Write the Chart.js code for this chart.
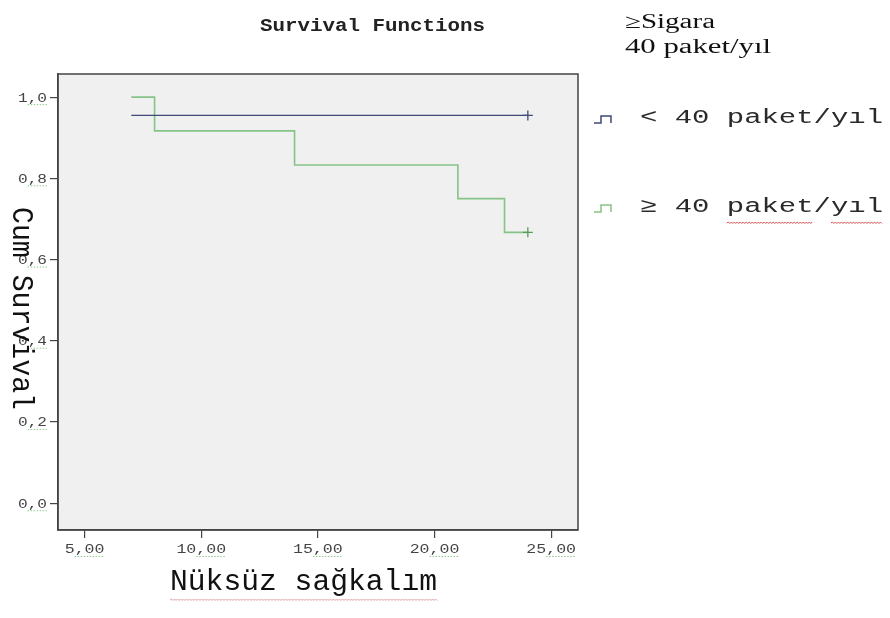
<!DOCTYPE html>
<html><head><meta charset="utf-8">
<script src="https://cdn.jsdelivr.net/npm/chart.js@4/dist/chart.umd.min.js"></script>
<style>html,body{margin:0;padding:0;background:#fff}#wrap{width:890px;height:618px}</style>
</head><body><div id="wrap"><canvas id="c" width="890" height="618"></canvas></div>
<script>
const titleText = 'Survival Functions';
const xAxisTitle = 'Nüksüz sağkalım';
const yAxisTitle = 'Cum Survival';
const legendTitle = ['≥Sigara', '40 paket/yıl'];
const seriesNames = ['< 40 paket/yıl', '≥ 40 paket/yıl'];
const xTicks = [5, 10, 15, 20, 25];
const yTicks = [0, 0.2, 0.4, 0.6, 0.8, 1.0];
const timesLow = [7, 24];
const survLow = [0.955, 0.955];
const timesHigh = [7, 8, 14, 21, 23, 24];
const survHigh = [1.0, 0.917, 0.833, 0.75, 0.667, 0.667];
const censoredLow = [24];
const censoredHigh = [24];

const colLow = '#3f4a78';
const colHigh = '#86c386';

function pts(xs, ys){ return xs.map((x,i)=>({x:x, y:ys[i]})); }
function censorRadius(list){
  return ctx => { const d = ctx.dataset.data; const i = ctx.dataIndex;
    return (i === d.length-1 && list.includes(d[i].x)) ? 5 : 0; };
}

function drawFit(ctx, text, x, y, w, font, color, align){
  ctx.save(); ctx.font = font; const m = ctx.measureText(text).width;
  ctx.translate(x, y); ctx.scale(w/m, 1); ctx.textAlign = align || 'left';
  ctx.textBaseline = 'alphabetic'; ctx.fillStyle = color; ctx.fillText(text, 0, 0); ctx.restore();
}
function drawScaled(ctx, text, x, y, sx, font, color, align){
  ctx.save(); ctx.font = font; ctx.translate(x, y); ctx.scale(sx, 1);
  ctx.textAlign = align || 'left'; ctx.textBaseline='alphabetic'; ctx.fillStyle = color;
  ctx.fillText(text, 0, 0); ctx.restore();
}
function dotted(ctx, x1, x2, y, color){
  ctx.save(); ctx.strokeStyle = color; ctx.lineWidth = 1; ctx.setLineDash([1.5,1.5]);
  ctx.beginPath(); ctx.moveTo(x1, y+0.5); ctx.lineTo(x2, y+0.5); ctx.stroke(); ctx.restore();
}
function wavy(ctx, x1, x2, y, color){
  ctx.save(); ctx.strokeStyle = color; ctx.lineWidth = 1; ctx.beginPath();
  let up = true; ctx.moveTo(x1, y);
  for (let x = x1 + 1.5; x <= x2; x += 1.5) { ctx.lineTo(x, up ? y - 1 : y + 0.5); up = !up; }
  ctx.stroke(); ctx.restore();
}

const deco = {
  id: 'deco',
  beforeDraw(chart){
    const {ctx, chartArea:a} = chart;
    ctx.save(); ctx.fillStyle = '#ffffff'; ctx.fillRect(0,0,chart.width,chart.height);
    ctx.fillStyle = '#f0f0f0'; ctx.fillRect(a.left, a.top, a.right-a.left, a.bottom-a.top); ctx.restore();
  },
  afterDraw(chart){
    const {ctx, chartArea:a, scales} = chart;
    ctx.save(); ctx.strokeStyle = '#444'; ctx.lineWidth = 1.5;
    ctx.strokeRect(a.left, a.top, a.right-a.left, a.bottom-a.top); ctx.restore();
    // tick labels
    xTicks.forEach(v => {
      const px = scales.x.getPixelForValue(v);
      const t = v.toFixed(2).replace('.', ',');
      drawScaled(ctx, t, px, 553, 1.38, '12px "Liberation Mono"', '#444', 'center');
      const w = t.length * 7.2 * 1.38; const right = px + w/2;
      dotted(ctx, right - 3*7.2*1.38, right, 556, '#8fc98f');
    });
    yTicks.forEach(v => {
      const py = scales.y.getPixelForValue(v);
      const t = v.toFixed(1).replace('.', ',');
      drawScaled(ctx, t, 47, py+4.5, 1.24, '13px "Liberation Mono"', '#444', 'right');
      dotted(ctx, 47 - 2*7.8*1.24, 47, py+7, '#8fc98f');
    });
    // title
    drawFit(ctx, titleText, 260, 31, 225, 'bold 19px "Liberation Mono"', '#222', 'left');
    // axis titles
    drawFit(ctx, xAxisTitle, 170, 590, 267, '30px "Liberation Mono"', '#111', 'left');
    wavy(ctx, 170, 437, 600, '#e6a0a0');
    ctx.save(); ctx.translate(13, 207); ctx.rotate(Math.PI/2);
    drawFit(ctx, yAxisTitle, 0, 0, 203, '29px "Liberation Mono"', '#111', 'left');
    ctx.restore();
    // legend header
    drawFit(ctx, legendTitle[0], 625, 28, 90, '20px "Liberation Serif"', '#111', 'left');
    drawFit(ctx, legendTitle[1], 625, 53, 146, '20px "Liberation Serif"', '#111', 'left');
    // legend entries
    const entries = [[seriesNames[0], colLow, 123], [seriesNames[1], colHigh, 212]];
    entries.forEach(([txt, col, base]) => {
      ctx.save(); ctx.strokeStyle = col; ctx.lineWidth = 1.5; ctx.beginPath();
      ctx.moveTo(594, base); ctx.lineTo(601, base); ctx.lineTo(601, base-7);
      ctx.lineTo(611, base-7); ctx.lineTo(611, base); ctx.stroke(); ctx.restore();
      drawFit(ctx, txt, 640, base, 243, '20px "Liberation Mono"', '#2a2a2a', 'left');
    });
    const cw = 243/14;
    wavy(ctx, 640+5*cw, 640+10*cw, 223, '#d85050');
    wavy(ctx, 640+11*cw, 640+14*cw, 223, '#d85050');
  }
};

new Chart(document.getElementById('c'), {
  type: 'line',
  data: { datasets: [
    { label: seriesNames[0], data: pts(timesLow, survLow), stepped: true, borderColor: colLow,
      borderWidth: 1.4, fill: false, pointStyle: 'cross', pointRadius: censorRadius(censoredLow),
      pointBorderColor: colLow, pointBorderWidth: 1.3, pointBackgroundColor: colLow },
    { label: seriesNames[1], data: pts(timesHigh, survHigh), stepped: true, borderColor: colHigh,
      borderWidth: 1.6, fill: false, pointStyle: 'cross', pointRadius: censorRadius(censoredHigh),
      pointBorderColor: '#5a9a5a', pointBorderWidth: 1.3, pointBackgroundColor: colHigh }
  ]},
  options: {
    responsive: false, animation: false,
    layout: { padding: { top: 74, right: 312, left: 0, bottom: 0 } },
    plugins: { legend: { display: false }, title: { display: false }, tooltip: { enabled: false } },
    scales: {
      x: { type: 'linear', min: 3.86, max: 26.15,
        afterBuildTicks: s => { s.ticks = xTicks.map(v => ({ value: v })); },
        afterFit: s => { s.height = 88; },
        ticks: { display: false },
        grid: { drawOnChartArea: false, drawTicks: true, tickLength: 8, color: '#444', lineWidth: 1.2 },
        border: { display: true, color: '#444', width: 1.5 } },
      y: { type: 'linear', min: -0.066, max: 1.057,
        afterBuildTicks: s => { s.ticks = yTicks.map(v => ({ value: v })); },
        afterFit: s => { s.width = 58; },
        ticks: { display: false },
        grid: { drawOnChartArea: false, drawTicks: true, tickLength: 8, color: '#444', lineWidth: 1.2 },
        border: { display: true, color: '#444', width: 1.5 } }
    }
  },
  plugins: [deco]
});
</script></body></html>
